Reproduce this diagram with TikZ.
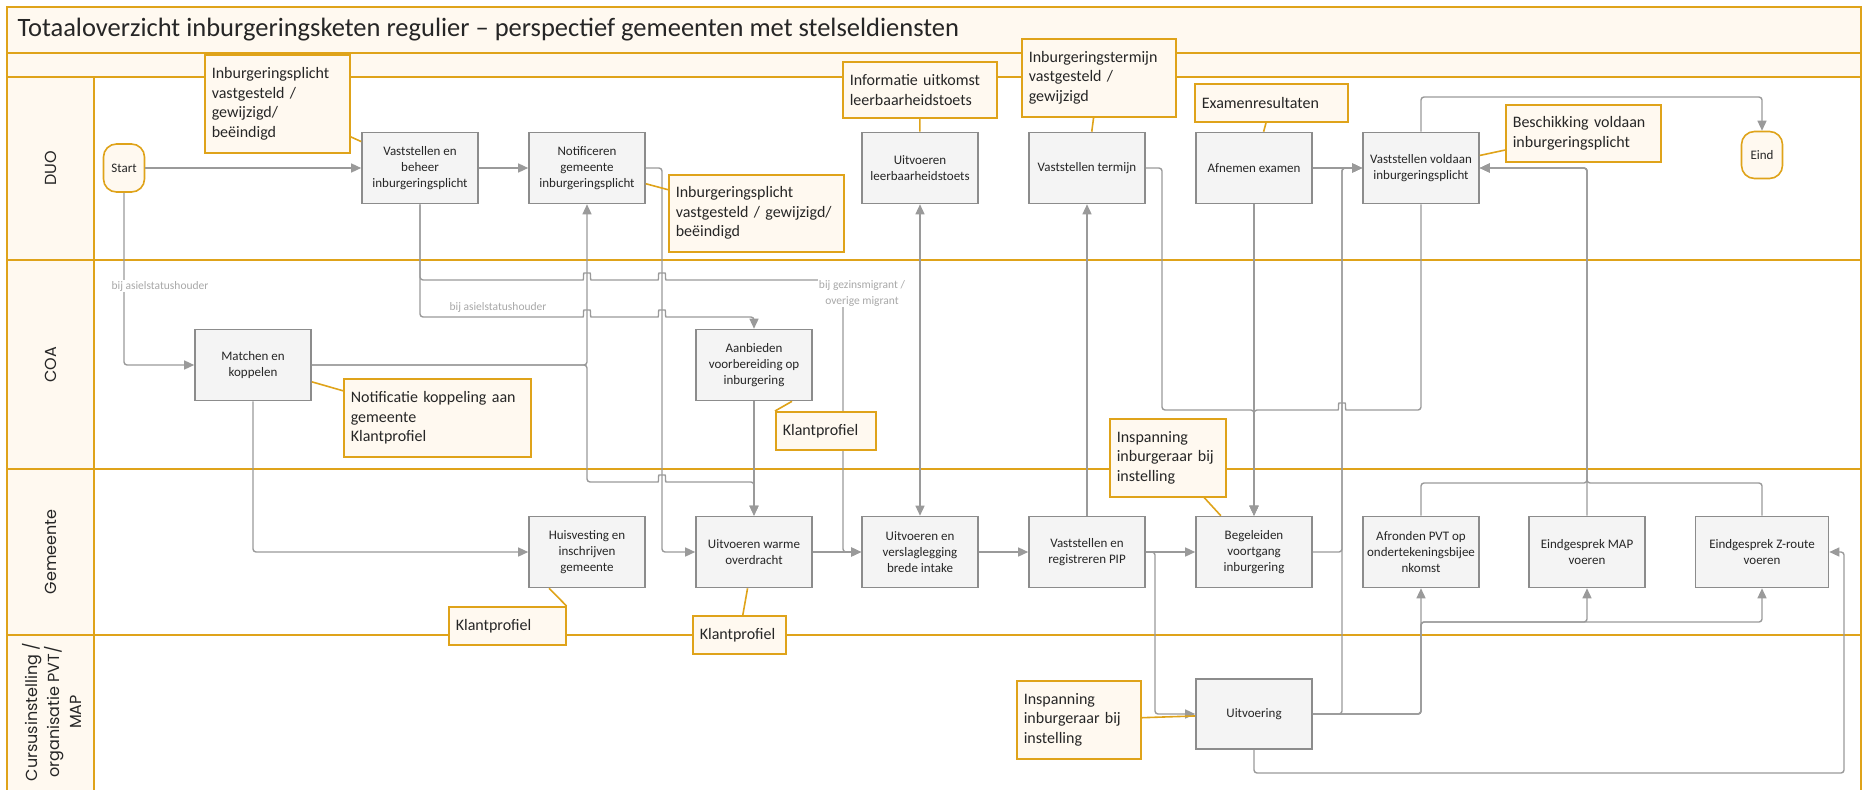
\documentclass[tikz,border=0pt]{standalone}
\usepackage{fontspec}
\setmainfont{Carlito}
\newfontfamily\lanefont{Poppins}
\usetikzlibrary{arrows.meta}
\definecolor{gold}{HTML}{DFA31A}
\definecolor{cream}{HTML}{FFF9F0}
\definecolor{boxfill}{HTML}{F4F4F4}
\definecolor{boxline}{HTML}{8C8C8C}
\definecolor{flowgray}{HTML}{9A9A9A}
\definecolor{condgray}{HTML}{A8A8A8}
\definecolor{ink}{HTML}{262626}
\tikzset{
  lane/.style={draw=gold,line width=2pt},
  lanelbl/.style={rotate=90,align=center,text=ink,font=\lanefont\fontsize{16}{22}\selectfont},
  proc/.style={draw=boxline,fill=boxfill,line width=1.6pt,minimum width=116pt,minimum height=71pt,align=center,inner sep=2pt,text=ink,font=\fontsize{13}{16}\selectfont},
  term/.style={draw=gold,fill=cream,line width=1.6pt,rounded corners=13pt,minimum width=41pt,minimum height=48pt,inner sep=1pt,text=ink,font=\fontsize{13}{16}\selectfont},
  note/.style={draw=gold,fill=cream,line width=1.6pt,anchor=north west,align=left,inner xsep=7pt,inner ysep=2pt,text=ink,font=\fontsize{16}{19.5}\selectfont},
  link/.style={draw=gold,line width=1.6pt},
  flow/.style={draw=flowgray,line width=1.4pt,rounded corners=3pt,-{Triangle[length=10pt,width=9pt]}},
  back/.style={draw=flowgray,line width=1.4pt,rounded corners=3pt,{Triangle[length=10pt,width=9pt]}-},
  cond/.style={fill=white,inner sep=1pt,text=condgray,align=center,font=\fontsize{11.5}{16}\selectfont},
  hop/.style 2 args={insert path={-- (#1-7,#2) .. controls (#1-3,#2) and (#1-4,#2-7) .. (#1,#2-7) .. controls (#1+4,#2-7) and (#1+3,#2) .. (#1+7,#2)}}
}
\begin{document}
\begin{tikzpicture}[x=1pt,y=-1pt]
	\useasboundingbox (0,0) rectangle (1864,790);
	%lanes
	\fill[cream] (7,7) rectangle (1861,77);
	\fill[cream] (7,77) rectangle (94,800);
	\draw[lane] (7,7) rectangle (1861,800);
	\draw[lane] (7,53) -- (1861,53);
	\draw[lane] (7,77) -- (1861,77);
	\draw[lane] (94,77) -- (94,800);
	\draw[lane] (7,260) -- (1861,260);
	\draw[lane] (7,469) -- (1861,469);
	\draw[lane] (7,635) -- (1861,635);
	\node[anchor=west,text=ink,font=\fontsize{26.5}{30}\selectfont] (title) at (14,30) {Totaaloverzicht inburgeringsketen regulier – perspectief gemeenten met stelseldiensten};
	\node[lanelbl] (duo) at (51,168) {DUO};
	\node[lanelbl] (coa) at (51,365) {COA};
	\node[lanelbl] (gem) at (51,552) {Gemeente};
	\node[lanelbl] (cursus) at (52,712) {Cursusinstelling /\\organisatie PVT/\\MAP};
	%DUO
	\node[term] (start) at (124,168) {Start};
	\node[proc] (beheer) at (420,168) {Vaststellen en\\beheer\\inburgeringsplicht};
	\node[proc] (notif) at (587,168) {Notificeren\\gemeente\\inburgeringsplicht};
	\node[proc] (toets) at (920,168) {Uitvoeren\\leerbaarheidstoets};
	\node[proc] (termijn) at (1087,168) {Vaststellen termijn};
	\node[proc] (examen) at (1254,168) {Afnemen examen};
	\node[proc] (voldaan) at (1421,168) {Vaststellen voldaan\\inburgeringsplicht};
	\node[term,minimum height=47pt] (eind) at (1762,155) {Eind};
	%COA
	\node[proc] (matchen) at (253,365) {Matchen en\\koppelen};
	\node[proc] (aanbieden) at (754,365) {Aanbieden\\voorbereiding op\\inburgering};
	%Gemeente
	\node[proc] (huisv) at (587,552) {Huisvesting en\\inschrijven\\gemeente};
	\node[proc] (warme) at (754,552) {Uitvoeren warme\\overdracht};
	\node[proc] (intake) at (920,552) {Uitvoeren en\\verslaglegging\\brede intake};
	\node[proc] (pip) at (1087,552) {Vaststellen en\\registreren PIP};
	\node[proc] (begel) at (1254,552) {Begeleiden\\voortgang\\inburgering};
	\node[proc] (pvt) at (1421,552) {Afronden PVT op\\ondertekeningsbijee\\nkomst};
	\node[proc] (map) at (1587,552) {Eindgesprek MAP\\voeren};
	\node[proc,minimum width=133pt] (zroute) at (1762,552) {Eindgesprek Z-route\\voeren};
	%Cursusinstelling
	\node[proc,minimum height=70pt] (uitv) at (1254,714) {Uitvoering};
	%flows
	\draw[flow] (start) -- (beheer);
	\draw[flow] (beheer) -- (notif);
	\draw[flow] (examen) -- (voldaan);
	\draw[flow] (voldaan.north) -- (1421,97) -| (eind.north);
	\draw[flow] (start.south) |- (matchen.west);
	\draw[flow] (beheer.south) -- (420,280) [hop={587}{280}] [hop={662}{280}] -- (843,280) -- (843,552) -- (intake.west);
	\draw[flow] (beheer.south) -- (420,317) [hop={587}{317}] [hop={662}{317}] -- (754,317) -- (aanbieden.north);
	\draw[flow] (matchen) -| (notif);
	\draw[flow] (matchen.east) -- (587,365) -- (587,482) [hop={662}{482}] -- (754,482) -- (warme.north);
	\draw[flow] (matchen) |- (huisv);
	\draw[flow] (aanbieden) -- (warme);
	\draw[flow] (notif) -| (662,552) -- (warme);
	\draw[flow] (warme) -- (intake);
	\draw[flow] (intake) -- (pip);
	\draw[flow] (pip) -- (begel);
	\draw[flow] (pip) -- (termijn);
	\draw[flow,{Triangle[length=10pt,width=9pt]}-{Triangle[length=10pt,width=9pt]}] (toets) -- (intake);
	\draw[flow] (pip.east) -- (1155,552) |- (uitv.west);
	\draw[flow] (termijn.east) -| (1162,410) -| (begel.north);
	\draw[flow] (examen) -- (begel);
	\draw[back] (begel.north) -- (1254,410) [hop={1342}{410}] -- (1421,410) -- (voldaan.south);
	\draw[flow] (begel.east) -| (1342,168) -- (voldaan.west);
	\draw[flow] (uitv.east) -| (1342,168) -- (voldaan.west);
	\draw[flow] (uitv.east) -| (pvt.south);
	\draw[flow] (uitv.east) -| (1421,622) -| (map.south);
	\draw[flow] (uitv.east) -| (1421,622) -| (zroute.south);
	\draw[flow] (uitv.south) |- (1844,773) |- (zroute.east);
	\draw[flow] (pvt.north) |- (1587,483) |- (voldaan.east);
	\draw[flow] (map.north) |- (voldaan.east);
	\draw[flow] (zroute.north) |- (1587,483) |- (voldaan.east);
	%conditions
	\node[cond] (asiel1) at (160,286) {bij asielstatushouder};
	\node[cond] (asiel2) at (498,307) {bij asielstatushouder};
	\node[cond] (gezin) at (862,293) {bij gezinsmigrant /\\overige migrant};
	%notes
	\node[note,text width=131pt,minimum height=98pt] (c1) at (204,54) {Inburgeringsplicht\\vastgesteld /\\gewijzigd/\\beëindigd};
	\node[note,text width=161pt,minimum height=77pt] (c2) at (668,174) {Inburgeringsplicht\\\mbox{vastgesteld /\ gewijzigd/}\\beëindigd};
	\node[note,text width=140pt,minimum height=56pt] (c3) at (842,61) {Informatie uitkomst\\leerbaarheidstoets};
	\node[note,text width=140pt,minimum height=78pt] (c4) at (1021,38) {Inburgeringstermijn\\vastgesteld /\\gewijzigd};
	\node[note,text width=139pt,minimum height=38pt] (c5) at (1194,83) {Examenresultaten};
	\node[note,text width=141pt,minimum height=57pt] (c6) at (1505,104) {Beschikking voldaan\\inburgeringsplicht};
	\node[note,text width=173pt,minimum height=78pt] (c7) at (343,378) {Notificatie koppeling aan\\gemeente\\Klantprofiel};
	\node[note,text width=86pt,minimum height=38pt] (c8) at (775,411) {Klantprofiel};
	\node[note,text width=102pt,minimum height=78pt] (c9) at (1109,418) {Inspanning\\inburgeraar bij\\instelling};
	\node[note,text width=103pt,minimum height=38pt] (c10) at (448,606) {Klantprofiel};
	\node[note,text width=79pt,minimum height=38pt] (c11) at (692,615) {Klantprofiel};
	\node[note,text width=110pt,minimum height=78pt] (c12) at (1016,680) {Inspanning\\inburgeraar bij\\instelling};
	\draw[link] (c1) -- (beheer);
	\draw[link] (notif) -- (c2);
	\draw[link] (c3) -- (toets);
	\draw[link] (c4) -- (termijn);
	\draw[link] (c5) -- (examen);
	\draw[link] (c6) -- (voldaan);
	\draw[link] (c7) -- (matchen);
	\draw[link] (c8.north west) -- ([xshift=38pt]aanbieden.south);
	\draw[link] (c9) -- (begel);
	\draw[link] (c10.north east) -- ([xshift=-38pt]huisv.south);
	\draw[link] (c11) -- (warme);
	\draw[link] (c12) -- (uitv);
\end{tikzpicture}
\end{document}
